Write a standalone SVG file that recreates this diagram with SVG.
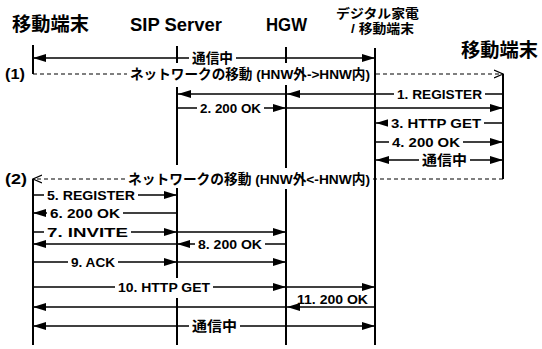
<svg xmlns="http://www.w3.org/2000/svg" width="542" height="349" viewBox="0 0 542 349">
<defs>
<style>
.ll{stroke:#000;stroke-width:2;fill:none}
.m{stroke:#000;stroke-width:1.4;fill:none}
.ma{stroke:#000;stroke-width:1.4;fill:none;marker-end:url(#ah)}
.md{stroke:#000;stroke-width:1.4;fill:none;marker-end:url(#ah);marker-start:url(#ahs)}
.dash{stroke:#000;stroke-width:1.2;fill:none;stroke-dasharray:4 3}
.bg{fill:#fff}
text{font-family:"Liberation Sans","Noto Sans CJK JP",sans-serif;font-weight:bold;fill:#000}
.h{font-size:19px}
.s{font-size:13px}
.t{font-size:13.5px}
.j{font-size:14px}
</style>
<marker id="ah" markerUnits="userSpaceOnUse" markerWidth="13" markerHeight="9" refX="13" refY="4.5" orient="auto">
<path d="M0,0.5 L13,4.5 L0,8.5 z" fill="#000"/>
</marker>
<marker id="ahs" markerUnits="userSpaceOnUse" markerWidth="13" markerHeight="9" refX="13" refY="4.5" orient="auto-start-reverse">
<path d="M0,0.5 L13,4.5 L0,8.5 z" fill="#000"/>
</marker>
<marker id="oa" markerUnits="userSpaceOnUse" markerWidth="10" markerHeight="10" refX="9" refY="5" orient="auto">
<path d="M0,1 L9,5 L0,9" fill="none" stroke="#000" stroke-width="1.2"/>
</marker>
</defs>
<rect width="542" height="349" fill="#fff"/>

<g id="node-mobile-left">
<text class="h" x="12" y="31" textLength="77" lengthAdjust="spacingAndGlyphs">移動端末</text>
<path class="ll" d="M33,45 V74 M33,179 V345"/>
</g>
<g id="node-sip-server">
<text class="h" x="130" y="31" textLength="92" lengthAdjust="spacingAndGlyphs">SIP Server</text>
<path class="ll" d="M177,46 V63 M177,87 V165 M177,188 V278 M177,298 V345"/>
</g>
<g id="node-hgw">
<text class="h" x="266" y="31" textLength="41" lengthAdjust="spacingAndGlyphs">HGW</text>
<path class="ll" d="M286,47 V63 M286,85 V168 M286,189 V345"/>
</g>
<g id="node-digital">
<text class="s" x="336" y="18" textLength="83" lengthAdjust="spacingAndGlyphs">デジタル家電</text>
<text class="s" x="351" y="33" textLength="63" lengthAdjust="spacingAndGlyphs">/ 移動端末</text>
<path class="ll" d="M375,48 V345"/>
</g>
<g id="node-mobile-right">
<text class="h" x="461" y="57" textLength="77" lengthAdjust="spacingAndGlyphs">移動端末</text>
<path class="ll" d="M503,74 V179"/>
</g>
<g id="phase-labels">
<text x="5" y="79" style="font-size:15px" textLength="20" lengthAdjust="spacingAndGlyphs">(1)</text>
<text x="5" y="184" style="font-size:15px" textLength="22" lengthAdjust="spacingAndGlyphs">(2)</text>
</g>

<g id="connectors">
<line class="md" x1="33" y1="58" x2="375" y2="58"/>
<line class="dash" x1="33" y1="74" x2="503" y2="74" marker-end="url(#oa)"/>
<line class="ma" x1="503" y1="94" x2="287" y2="94"/>
<line class="ma" x1="286" y1="94" x2="178" y2="94"/>
<line class="ma" x1="177" y1="108" x2="286" y2="108"/>
<line class="ma" x1="286" y1="108" x2="503" y2="108"/>
<line class="ma" x1="503" y1="123" x2="376" y2="123"/>
<line class="ma" x1="375" y1="142" x2="503" y2="142"/>
<line class="md" x1="376" y1="160" x2="503" y2="160"/>
<line class="dash" x1="503" y1="179" x2="33" y2="179" marker-end="url(#oa)"/>
<line class="ma" x1="33" y1="195" x2="177" y2="195"/>
<line class="ma" x1="177" y1="213" x2="33" y2="213"/>
<line class="ma" x1="33" y1="232" x2="177" y2="232"/>
<line class="ma" x1="177" y1="232" x2="286" y2="232"/>
<line class="ma" x1="286" y1="244" x2="177" y2="244"/>
<line class="ma" x1="177" y1="244" x2="33" y2="244"/>
<line class="ma" x1="33" y1="262" x2="177" y2="262"/>
<line class="ma" x1="177" y1="262" x2="286" y2="262"/>
<line class="ma" x1="33" y1="287" x2="286" y2="287"/>
<line class="ma" x1="286" y1="287" x2="375" y2="287"/>
<line class="ma" x1="375" y1="307" x2="287" y2="307"/>
<line class="ma" x1="286" y1="307" x2="33" y2="307"/>
<line class="md" x1="33" y1="326" x2="375" y2="326"/>
</g>

<g id="labels">
<rect class="bg" x="189" y="51" width="47" height="14"/>
<text class="j" x="192" y="63" textLength="41" lengthAdjust="spacingAndGlyphs">通信中</text>
<rect class="bg" x="127" y="67" width="246" height="15"/>
<text class="t" x="130" y="79" textLength="240" lengthAdjust="spacingAndGlyphs">ネットワークの移動 (HNW外-&gt;HNW内)</text>
<rect class="bg" x="394" y="88" width="91" height="13"/>
<text class="t" x="397" y="99" textLength="85" lengthAdjust="spacingAndGlyphs">1. REGISTER</text>
<rect class="bg" x="197" y="102" width="67" height="13"/>
<text class="t" x="200" y="113" textLength="61" lengthAdjust="spacingAndGlyphs">2. 200 OK</text>
<rect class="bg" x="388" y="117" width="96" height="13"/>
<text class="t" x="391" y="128" textLength="90" lengthAdjust="spacingAndGlyphs">3. HTTP GET</text>
<rect class="bg" x="389" y="136" width="74" height="13"/>
<text class="t" x="392" y="147" textLength="68" lengthAdjust="spacingAndGlyphs">4. 200 OK</text>
<rect class="bg" x="419" y="153" width="51" height="14"/>
<text class="j" x="422" y="165" textLength="45" lengthAdjust="spacingAndGlyphs">通信中</text>
<rect class="bg" x="125" y="172" width="248" height="15"/>
<text class="t" x="128" y="184" textLength="242" lengthAdjust="spacingAndGlyphs">ネットワークの移動 (HNW外&lt;-HNW内)</text>
<rect class="bg" x="44" y="189" width="94" height="13"/>
<text class="t" x="47" y="200" textLength="88" lengthAdjust="spacingAndGlyphs">5. REGISTER</text>
<rect class="bg" x="47" y="207" width="76" height="13"/>
<text class="t" x="50" y="218" textLength="70" lengthAdjust="spacingAndGlyphs">6. 200 OK</text>
<rect class="bg" x="44" y="226" width="87" height="13"/>
<text class="t" x="47" y="237" textLength="81" lengthAdjust="spacingAndGlyphs">7. INVITE</text>
<rect class="bg" x="195" y="238" width="70" height="13"/>
<text class="t" x="198" y="249" textLength="64" lengthAdjust="spacingAndGlyphs">8. 200 OK</text>
<rect class="bg" x="68" y="256" width="50" height="13"/>
<text class="t" x="71" y="267" textLength="44" lengthAdjust="spacingAndGlyphs">9. ACK</text>
<rect class="bg" x="115" y="281" width="98" height="13"/>
<text class="t" x="118" y="292" textLength="92" lengthAdjust="spacingAndGlyphs">10. HTTP GET</text>
<text class="t" x="297" y="304" textLength="71" lengthAdjust="spacingAndGlyphs">11. 200 OK</text>
<rect class="bg" x="189" y="319" width="51" height="14"/>
<text class="j" x="192" y="331" textLength="45" lengthAdjust="spacingAndGlyphs">通信中</text>
</g>
</svg>
